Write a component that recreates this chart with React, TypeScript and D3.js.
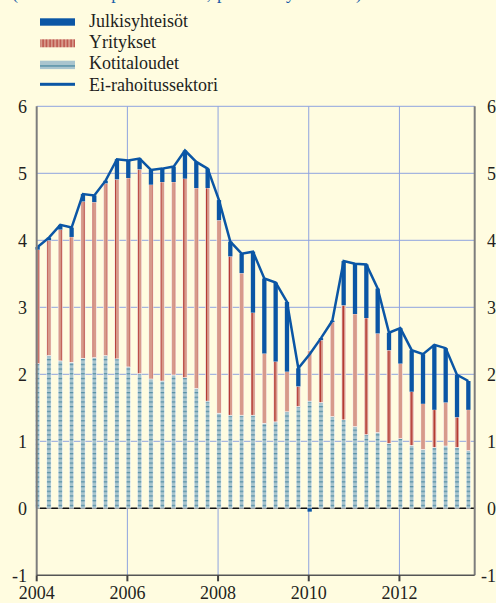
import React from "react";
import * as d3 from "d3";

const quarters = [
  "2004Q1","2004Q2","2004Q3","2004Q4","2005Q1","2005Q2","2005Q3","2005Q4",
  "2006Q1","2006Q2","2006Q3","2006Q4","2007Q1","2007Q2","2007Q3","2007Q4",
  "2008Q1","2008Q2","2008Q3","2008Q4","2009Q1","2009Q2","2009Q3","2009Q4",
  "2010Q1","2010Q2","2010Q3","2010Q4","2011Q1","2011Q2","2011Q3","2011Q4",
  "2012Q1","2012Q2","2012Q3","2012Q4","2013Q1","2013Q2","2013Q3",
];

const kotitaloudet = [
  2.16, 2.28, 2.2, 2.18, 2.24, 2.25, 2.28, 2.23, 2.11, 2.01, 1.93, 1.9, 1.99,
  1.95, 1.79, 1.6, 1.42, 1.39, 1.39, 1.39, 1.27, 1.29, 1.44, 1.52, 1.6, 1.58,
  1.37, 1.32, 1.22, 1.1, 1.13, 0.97, 1.04, 0.94, 0.88, 0.91, 0.93, 0.91, 0.86,
];

const yritykset = [
  1.7, 1.72, 1.96, 1.87, 2.34, 2.32, 2.57, 2.68, 2.82, 3.05, 2.9, 2.97, 2.88,
  2.97, 2.99, 3.18, 2.88, 2.37, 2.12, 1.53, 1.04, 0.9, 0.6, 0.3, 0.75, 0.93,
  1.41, 1.71, 1.68, 1.74, 1.48, 1.39, 1.12, 0.8, 0.68, 0.56, 0.65, 0.45, 0.61,
];

const julkisyhteisot = [
  0.04, 0.04, 0.07, 0.14, 0.11, 0.1, 0.04, 0.3, 0.26, 0.16, 0.22, 0.2, 0.23,
  0.42, 0.39, 0.29, 0.3, 0.22, 0.29, 0.91, 1.12, 1.18, 1.04, 0.27, -0.05, 0.03,
  0.02, 0.66, 0.75, 0.8, 0.67, 0.26, 0.53, 0.62, 0.74, 0.97, 0.81, 0.63, 0.43,
];

const eiRahoitussektori = [
  3.9, 4.04, 4.23, 4.19, 4.69, 4.67, 4.89, 5.21, 5.19, 5.22, 5.05, 5.07, 5.1,
  5.34, 5.17, 5.07, 4.6, 3.98, 3.8, 3.83, 3.43, 3.37, 3.08, 2.09, 2.3, 2.54,
  2.8, 3.69, 3.65, 3.64, 3.28, 2.62, 2.69, 2.36, 2.3, 2.44, 2.39, 1.99, 1.9,
];

const yTicks = [-1, 0, 1, 2, 3, 4, 5, 6];
const xTickYears = [2004, 2006, 2008, 2010, 2012];

const legendItems = ["Julkisyhteisöt", "Yritykset", "Kotitaloudet", "Ei-rahoitussektori"];
const titleText = "(vuosikasvu prosentteina, prosenttiyksikköä)";

const W = 496;
const H = 603;
const BG = "#fffce0";
const GRID = "#8fa3df";
const BLUE = "#0b56a5";
const SALMON = "#d79a8b";
const DARKRED = "#b1322c";
const KLIGHT = "#a9c5ce";
const KDASH = "#4c8aa2";
const TEXT = "#231f20";
const TS = { fontFamily: '"Liberation Serif"', fontSize: "18px" };

function qTime(q: string): number {
  const yr = +q.slice(0, 4);
  const qq = +q.slice(5);
  return yr + (qq - 1) / 4 + 0.02;
}

export default function App() {
  const x = d3.scaleLinear().domain([2004, 2013.66]).range([36.7, 474.7]);
  const y = d3.scaleLinear().domain([-1, 6]).range([575.3, 106.3]);
  const bw = 4.3;

  const line = d3
    .line<number>()
    .x((_, i) => x(qTime(quarters[i])))
    .y((d) => y(d))
    .curve(d3.curveLinear);

  const x0 = x(2004);
  const x1 = x.range()[1];

  const bars = quarters.map((q, i) => {
    const cx = x(qTime(q));
    const k = kotitaloudet[i];
    const yr = yritykset[i];
    const j = julkisyhteisot[i];
    let posBase = 0;
    let negBase = 0;
    const segs: { lo: number; hi: number; fill: string; key: string }[] = [];
    const add = (v: number, fill: string, key: string) => {
      if (v >= 0) {
        segs.push({ lo: posBase, hi: posBase + v, fill, key });
        posBase += v;
      } else {
        segs.push({ lo: negBase + v, hi: negBase, fill, key });
        negBase += v;
      }
    };
    add(k, "url(#patK)", "k");
    add(yr, "url(#patY)", "y");
    add(j, BLUE, "j");
    return (
      <g key={q}>
        {segs.map((s) => (
          <rect
            key={s.key}
            x={cx - bw / 2}
            y={y(s.hi)}
            width={bw}
            height={Math.max(0, y(s.lo) - y(s.hi))}
            fill={s.fill}
            stroke={s.key === "j" ? "none" : "#ffffff"}
            strokeWidth={0.5}
          />
        ))}
      </g>
    );
  });

  return (
    <svg
      width={W}
      height={H}
      viewBox={`0 0 ${W} ${H}`}
      style={{ position: "fixed", left: 0, top: 0, display: "block" }}
    >
      <defs>
        <pattern id="patK" patternUnits="userSpaceOnUse" width="10" height="4.7">
          <rect width="10" height="4.7" fill={KLIGHT} />
          <rect y="2" width="10" height="1.1" fill={KDASH} />
        </pattern>
        <pattern id="patY" patternUnits="userSpaceOnUse" width="7.6" height="10">
          <rect width="7.6" height="10" fill={SALMON} />
          <rect x="0.6" width="1.3" height="10" fill={DARKRED} />
        </pattern>
        <pattern id="patYleg" patternUnits="userSpaceOnUse" width="3.5" height="10">
          <rect width="3.5" height="10" fill={SALMON} />
          <rect x="0.5" width="1" height="10" fill={DARKRED} />
        </pattern>
      </defs>
      <rect width={W} height={H} fill={BG} />

      {/* cropped title (cut off at the top edge, as in the reference) */}
      <text
        x={12}
        y={-1.5}
        style={TS}
        fill="#1a5ca8"
        textLength={350}
        lengthAdjust="spacing"
      >
        {titleText}
      </text>

      {/* legend */}
      <rect x={40} y={18.3} width={35} height={7.4} fill={BLUE} />
      <rect x={40} y={39.3} width={35} height={8} fill="url(#patYleg)" />
      <rect x={40} y={60.7} width={35} height={8.4} fill={KLIGHT} />
      <rect x={40} y={65.3} width={35} height={1.3} fill={KDASH} />
      <rect x={40} y={82.8} width={35} height={3} fill={BLUE} />
      {legendItems.map((t, i) => (
        <text key={t} x={89} y={26.7 + i * 21.3} style={TS} fill={TEXT}>
          {t}
        </text>
      ))}

      {/* grid */}
      <g stroke={GRID} strokeWidth={1}>
        {yTicks
          .filter((v) => v > 0)
          .map((v) => (
            <line key={v} x1={x0} x2={x1} y1={y(v)} y2={y(v)} />
          ))}
        {xTickYears
          .filter((yr) => yr > 2004)
          .map((yr) => (
            <line key={yr} x1={x(yr)} x2={x(yr)} y1={y(6)} y2={y(-1)} />
          ))}
      </g>

      {/* zero line */}
      <line x1={x0} x2={x1} y1={y(0)} y2={y(0)} stroke="#111" strokeWidth={1.5} />

      {/* bars */}
      {bars}

      {/* total line */}
      <path
        d={line(eiRahoitussektori) || ""}
        fill="none"
        stroke={BLUE}
        strokeWidth={2.5}
        strokeLinejoin="miter"
      />

      {/* axes */}
      <line x1={x0} x2={x0} y1={y(6)} y2={y(-1)} stroke="#7d7d7d" strokeWidth={2} />
      <line x1={x1} x2={x1} y1={y(6)} y2={y(-1)} stroke="#7d7d7d" strokeWidth={2} />
      <line x1={x0} x2={x1} y1={y(-1)} y2={y(-1)} stroke="#555" strokeWidth={1.5} />
      {xTickYears.map((yr) => (
        <line
          key={yr}
          x1={x(yr)}
          x2={x(yr)}
          y1={y(-1)}
          y2={y(-1) + 6}
          stroke="#444"
          strokeWidth={2}
        />
      ))}

      {/* tick labels */}
      {yTicks.map((v) => (
        <text key={"l" + v} x={27} y={y(v)} dy="0.35em" textAnchor="end" style={TS} fill={TEXT}>
          {v}
        </text>
      ))}
      {yTicks.map((v) => (
        <text key={"r" + v} x={496} y={y(v)} dy="0.35em" textAnchor="end" style={TS} fill={TEXT}>
          {v}
        </text>
      ))}
      {xTickYears.map((yr) => (
        <text key={yr} x={x(yr)} y={599} textAnchor="middle" style={TS} fill={TEXT}>
          {yr}
        </text>
      ))}
    </svg>
  );
}
